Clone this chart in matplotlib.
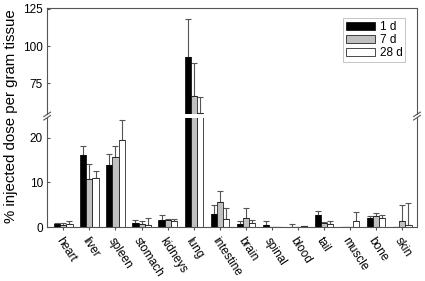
import numpy as np
import matplotlib
matplotlib.use("Agg")
from matplotlib import pyplot as plt

plt.rcParams['font.family'] = ['Liberation Sans', 'DejaVu Sans']

organs = ["heart", "liver", "spleen", "stomach", "kidneys", "lung", "intestine",
          "brain", "spinal", "blood", "tail", "muscle", "bone", "skin"]
series = ["1 d", "7 d", "28 d"]

# mean values (% ID/g) and upper error
d1 = [0.7, 16.2, 14.0, 0.8, 1.5, 92.8, 3.0, 0.7, 0.4, 0.0, 2.8, 0.0, 2.0, 0.0]
d1_err = [0.2, 1.9, 2.4, 0.8, 1.2, 25.2, 1.9, 0.6, 0.9, 0.75, 0.8, 0.0, 0.4, 0.0]
d7 = [0.4, 10.7, 15.6, 0.6, 1.5, 66.7, 5.6, 2.0, 0.0, 0.0, 0.9, 0.0, 2.5, 1.4]
d7_err = [0.5, 3.5, 2.6, 0.8, 0.2, 22.1, 2.5, 2.2, 0.0, 0.0, 0.3, 0.0, 0.7, 3.5]
d28 = [0.6, 11.0, 19.4, 0.5, 1.4, 55.0, 1.9, 0.8, 0.0, 0.2, 0.6, 1.3, 2.1, 0.5]
d28_err = [0.7, 1.6, 4.6, 1.6, 0.5, 11.2, 2.4, 0.7, 0.0, 0.1, 0.7, 2.1, 0.6, 4.9]

means = [d1, d7, d28]
errs = [d1_err, d7_err, d28_err]
colors = ["black", "#c0c0c0", "white"]

fig = plt.figure(figsize=(4.25, 2.81), dpi=100)
left, right = 0.111, 0.981
ax_top = fig.add_axes([left, 0.593, right - left, 0.972 - 0.593])
ax_bot = fig.add_axes([left, 0.192, right - left, 0.581 - 0.192])

x = np.arange(len(organs))
w = 0.235
spine_col = "#555555"

for ax in (ax_top, ax_bot):
    for i in range(3):
        ax.bar(x + (i - 1) * w, means[i], w, color=colors[i], edgecolor="black",
               linewidth=0.5, label=series[i], zorder=2)
        ax.errorbar(x + (i - 1) * w, means[i], yerr=[np.zeros(len(organs)), errs[i]],
                    fmt="none", ecolor="#555555", elinewidth=0.8, capsize=2.5,
                    capthick=0.8, zorder=1)
    ax.set_xlim(-0.62, 13.56)
    for s in ax.spines.values():
        s.set_color(spine_col)
        s.set_linewidth(0.8)
    ax.tick_params(axis="y", direction="in", length=2.5, labelsize=8.5,
                   color=spine_col, pad=3)
    ax.tick_params(axis="x", direction="out", length=2.5, color=spine_col)

ax_top.set_ylim(54.3, 125.5)
ax_top.set_yticks([75, 100, 125])
ax_top.spines["bottom"].set_visible(False)
ax_top.tick_params(axis="x", bottom=False, labelbottom=False)

ax_bot.set_ylim(0, 24.5)
ax_bot.set_yticks([0, 10, 20])
ax_bot.spines["top"].set_visible(False)
ax_bot.set_xticks(x)
ax_bot.set_xticklabels(organs, rotation=-57, ha="left", va="top",
                       rotation_mode="anchor", fontsize=8.5)

# break marks on both spines
for xs in (left, right):
    for yb in (0.581, 0.593):
        fig.add_artist(plt.Line2D([xs - 0.008, xs + 0.008], [yb - 0.008, yb + 0.008],
                                  color=spine_col, linewidth=0.8))

fig.text(0.026, 0.585, "% injected dose per gram tissue", rotation=90,
         ha="center", va="center", fontsize=10.8)

leg = ax_top.legend(loc="upper right", fontsize=8.5, frameon=True, fancybox=False,
                    edgecolor="#aaaaaa", handlelength=2.5, handleheight=0.7,
                    borderpad=0.25, labelspacing=0.1, handletextpad=0.4,
                    bbox_to_anchor=(0.985, 0.96))
leg.get_frame().set_linewidth(0.6)

fig.savefig("out.png", dpi=100)
